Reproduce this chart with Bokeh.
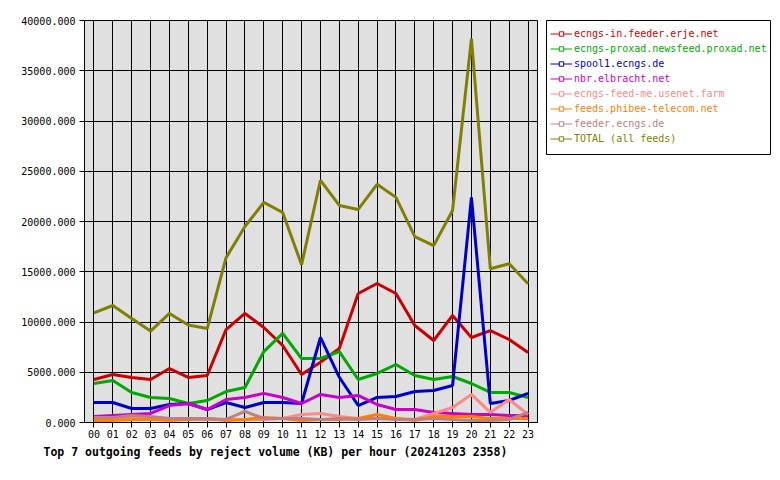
from bokeh.plotting import figure
from bokeh.layouts import row
from bokeh.models import Legend, LegendItem, Title, PrintfTickFormatter, FixedTicker
from bokeh.embed import file_html
from bokeh.resources import INLINE

# ---- data -------------------------------------------------------------
hour_labels = ["00", "01", "02", "03", "04", "05", "06", "07", "08", "09", "10", "11",
               "12", "13", "14", "15", "16", "17", "18", "19", "20", "21", "22", "23"]
hours = [0, 1, 2, 3, 4, 5, 6, 7, 8, 9, 10, 11, 12, 13, 14, 15, 16, 17, 18, 19, 20, 21, 22, 23]
y_ticks = [0, 5000, 10000, 15000, 20000, 25000, 30000, 35000, 40000]

series_names = [
    "ecngs-in.feeder.erje.net",
    "ecngs-proxad.newsfeed.proxad.net",
    "spool1.ecngs.de",
    "nbr.elbracht.net",
    "ecngs-feed-me.usenet.farm",
    "feeds.phibee-telecom.net",
    "feeder.ecngs.de",
    "TOTAL (all feeds)",
]
series_colors = ["#cc0000", "#00aa00", "#0000cc", "#cc00cc",
                 "#ff8888", "#ff8000", "#c08080", "#808000"]

ecngs_in = [4280, 4780, 4480, 4280, 5370, 4480, 4680, 9250, 10850, 9450, 7660, 4780,
            6000, 7360, 12840, 13830, 12840, 9650, 8160, 10650, 8460, 9150, 8260, 6970]
proxad = [3880, 4180, 2990, 2490, 2390, 1890, 2190, 3080, 3480, 7060, 8860, 6370,
          6370, 7060, 4280, 4880, 5770, 4680, 4280, 4580, 3880, 2990, 2990, 2490]
spool1 = [1990, 1990, 1390, 1390, 1790, 1890, 1290, 1990, 1490, 1990, 1990, 1890,
          8460, 4500, 1690, 2490, 2590, 3080, 3180, 3680, 22400, 1890, 2190, 2890]
nbr = [600, 700, 800, 900, 1690, 1890, 1290, 2290, 2490, 2900, 2490, 1890,
       2790, 2490, 2690, 1790, 1290, 1290, 1000, 900, 800, 800, 700, 700]
feed_me = [400, 400, 500, 400, 300, 300, 300, 300, 300, 300, 400, 800,
           900, 600, 400, 400, 400, 300, 900, 1490, 2790, 1000, 2290, 800]
phibee = [200, 200, 300, 300, 200, 300, 400, 200, 300, 500, 400, 200,
          300, 300, 400, 800, 400, 200, 600, 600, 600, 400, 400, 400]
feeder = [500, 500, 700, 600, 400, 400, 400, 300, 1100, 400, 400, 400,
          300, 400, 300, 400, 300, 300, 400, 300, 200, 200, 300, 1000]
total = [10900, 11640, 10350, 9100, 10850, 9700, 9350, 16400, 19500, 21900, 20900, 15700,
         24100, 21600, 21200, 23700, 22400, 18500, 17600, 21100, 38200, 15300, 15800, 13800]

series_values = [ecngs_in, proxad, spool1, nbr, feed_me, phibee, feeder, total]
title_text = "Top 7 outgoing feeds by reject volume (KB) per hour (20241203 2358)"

FONT = "DejaVu Sans Mono"
NAN = float("nan")

# ---- main chart ------------------------------------------------------
p = figure(frame_width=453, frame_height=402,
           x_range=(-0.5, 23.5), y_range=(0, 40000),
           output_backend="svg", toolbar_location=None,
           min_border_left=84, min_border_top=20,
           min_border_right=9, min_border_bottom=50)

p.background_fill_color = "#e0e0e0"
p.border_fill_color = "white"
p.outline_line_color = "black"
p.outline_line_width = 1

p.xaxis.ticker = FixedTicker(ticks=hours)
p.xaxis.major_label_overrides = {h: lab for h, lab in zip(hours, hour_labels)}
p.yaxis.ticker = FixedTicker(ticks=y_ticks)
p.yaxis.formatter = PrintfTickFormatter(format="%.3f")

for ax in (p.xaxis[0], p.yaxis[0]):
    ax.axis_line_color = "black"
    ax.major_tick_line_color = "black"
    ax.major_tick_out = 5
    ax.major_tick_in = 0
    ax.minor_tick_line_color = None
    ax.major_label_text_font = FONT
    ax.major_label_text_font_size = "10px"
    ax.major_label_text_color = "black"
p.xaxis.major_label_standoff = 2
p.yaxis.major_label_standoff = 4

p.xgrid.ticker = FixedTicker(ticks=hours)
p.ygrid.ticker = FixedTicker(ticks=y_ticks)
for g in (p.xgrid[0], p.ygrid[0]):
    g.grid_line_color = "black"
    g.grid_line_width = 1
    g.grid_line_alpha = 1.0

for color, vals in zip(series_colors, series_values):
    p.line(hours, vals, line_color=color, line_width=3)

t = Title(text=title_text, align="left", offset=-41,
          text_font=FONT, text_font_size="11.5px", text_font_style="bold",
          text_color="black", standoff=4)
p.add_layout(t, "below")

# ---- legend panel (a bordered box to the right of the chart) ---------
BOX_W, BOX_H = 225, 135
ROW = 15
TOP_PAD = 6
q = figure(frame_width=BOX_W, frame_height=BOX_H,
           x_range=(0, 1), y_range=(0, 1),
           x_axis_type=None, y_axis_type=None,
           output_backend="svg", toolbar_location=None,
           min_border_left=0, min_border_right=0,
           min_border_top=20, min_border_bottom=0)
q.background_fill_color = "white"
q.border_fill_color = "white"
q.outline_line_color = "black"
q.outline_line_width = 1
q.xgrid.visible = False
q.ygrid.visible = False

for i, (n, c) in enumerate(zip(series_names, series_colors)):
    # legend-only glyphs: NaN data, so nothing is drawn in the box itself
    lr = q.line([NAN, NAN], [NAN, NAN], line_color=c, line_width=1)
    mr = q.scatter([NAN], [NAN], marker="square", size=4, line_color=c,
                   fill_color="white", line_width=1)
    lg = Legend(
        items=[LegendItem(label=n, renderers=[lr, mr])],
        location=(4, BOX_H - TOP_PAD - ROW * i - ROW),
        border_line_alpha=0.0, background_fill_alpha=0.0,
        label_text_font=FONT, label_text_font_size="10px", label_text_color=c,
        glyph_width=22, glyph_height=11, label_height=ROW, label_standoff=2,
        spacing=0, padding=0, margin=0,
    )
    q.add_layout(lg, "center")

layout = row(p, q)
open("out.html", "w").write(file_html(layout, INLINE))
